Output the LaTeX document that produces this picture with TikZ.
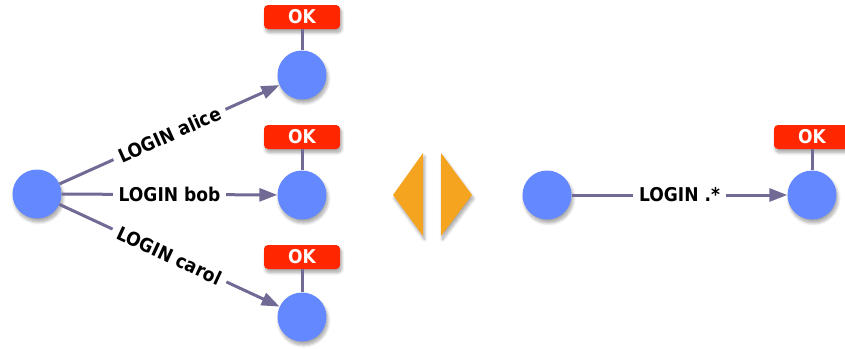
\documentclass[tikz,border=0pt]{standalone}
\usepackage{fontspec}
\setmainfont{DejaVu Sans}[FakeStretch=0.9]
\usetikzlibrary{arrows.meta,shadows,shadows.blur}
\definecolor{nodeblue}{RGB}{99,136,255}
\definecolor{okred}{RGB}{255,38,0}
\definecolor{edgec}{RGB}{112,106,148}
\definecolor{orng}{RGB}{245,164,32}
\tikzset{
  softshadow/.style={blur shadow={shadow xshift=1.5pt, shadow yshift=-3.5pt, shadow opacity=35, shadow blur radius=3pt, shadow blur steps=8}},
  state/.style={circle, fill=nodeblue, minimum size=49pt, inner sep=0pt, softshadow},
  okbox/.style={rectangle, rounded corners=4pt, fill=okred, minimum width=76pt, minimum height=24pt,
    inner sep=0pt, text=white, font=\bfseries\fontsize{19}{19}\selectfont, softshadow},
  trans/.style={draw=edgec, line width=3pt, -{Triangle[length=18pt,width=13pt]}},
  lbl/.style={fill=white, font=\bfseries\fontsize{19}{19}\selectfont, inner xsep=6pt, inner ysep=2pt},
  tie/.style={draw=edgec, line width=3pt},
}
\begin{document}
\begin{tikzpicture}[x=1pt,y=-1pt]
\useasboundingbox (0,0) rectangle (845,348);
% left graph
\node[state] (s) at (37,194) {};
\node[state] (a) at (302,75) {};
\node[state] (b) at (302,195) {};
\node[state] (c) at (302,317) {};
\node[okbox] (oka) at (302,17) {OK};
\node[okbox] (okb) at (302,137) {OK};
\node[okbox] (okc) at (302,257) {OK};
\draw[tie] (oka) -- (a);
\draw[tie] (okb) -- (b);
\draw[tie] (okc) -- (c);
\draw[trans] (s) -- node[lbl, sloped] {LOGIN alice} (a);
\draw[trans] (s) -- node[lbl] {LOGIN bob} (b);
\draw[trans] (s) -- node[lbl, sloped] {LOGIN carol} (c);
% orange double arrow
\fill[orng, softshadow] (423,153) -- (423,236) -- (393,195) -- cycle;
\fill[orng, softshadow] (441,153) -- (441,236) -- (472,195) -- cycle;
% right graph
\node[state] (r) at (547,195) {};
\node[state] (t) at (812,195) {};
\node[okbox] (okt) at (812,137) {OK};
\draw[tie] (okt) -- (t);
\draw[trans] (r) -- node[lbl] {LOGIN .*} (t);
\end{tikzpicture}
\end{document}
